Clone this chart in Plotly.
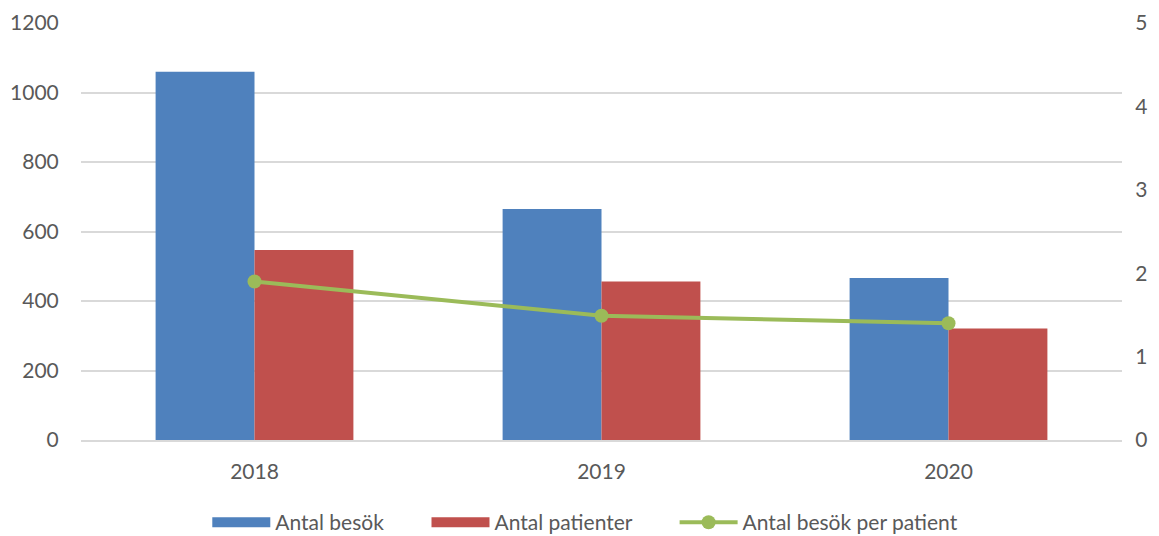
import plotly.graph_objects as go

years = ["2018", "2019", "2020"]
besok = [1060, 665, 466]
patienter = [547, 456, 321]
per_patient = [1.90, 1.49, 1.40]

names = ["Antal besök", "Antal patienter", "Antal besök per patient"]
colors = ["#4f81bd", "#c0504d", "#9bbb59"]

font_family = "Lato, 'Open Sans', sans-serif"
txt = "#595959"
fs = 21
pad = "\u00a0" * 7

fig = go.Figure()
fig.add_trace(go.Bar(x=years, y=besok, name=names[0], marker_color=colors[0],
                     marker_line_width=0, showlegend=False))
fig.add_trace(go.Bar(x=years, y=patienter, name=names[1], marker_color=colors[1],
                     marker_line_width=0, showlegend=False))
# legend swatches for the bars (wide rectangles as in the original)
for n, c in zip(names[:2], colors[:2]):
    fig.add_trace(go.Scatter(x=[None], y=[None], name=n + pad, mode="lines",
                             line=dict(color=c, width=15), showlegend=True))
fig.add_trace(go.Scatter(x=years, y=per_patient, name=names[2], yaxis="y2",
                         mode="lines+markers", line=dict(color=colors[2], width=4),
                         marker=dict(color=colors[2], size=14)))

fig.update_layout(
    width=1159, height=536,
    margin=dict(l=81, r=37, t=23, b=96),
    plot_bgcolor="white", paper_bgcolor="white",
    barmode="group", bargap=0.43, bargroupgap=0,
    font=dict(family=font_family, size=fs, color=txt),
    xaxis=dict(showgrid=False, showline=True, linecolor="#d9d9d9", linewidth=1.5,
               ticks="outside", ticklen=12, tickcolor="rgba(0,0,0,0)", automargin=False,
               tickfont=dict(size=fs, color=txt)),
    yaxis=dict(range=[0, 1200], dtick=200, showgrid=True, gridcolor="#d9d9d9", gridwidth=1.5,
               zeroline=False, ticks="outside", ticklen=17, tickcolor="rgba(0,0,0,0)",
               automargin=False, tickfont=dict(size=fs, color=txt)),
    yaxis2=dict(range=[0, 5], dtick=1, overlaying="y", side="right", showgrid=False,
                zeroline=False, ticks="outside", ticklen=8, tickcolor="rgba(0,0,0,0)",
                automargin=False, tickfont=dict(size=fs, color=txt)),
    legend=dict(orientation="h", xref="container", yref="container",
                x=0.505, xanchor="center", y=0.025, yanchor="middle",
                font=dict(size=fs, color=txt), traceorder="normal", itemwidth=58),
    showlegend=True,
)

fig.write_html("out.html", config={"displayModeBar": False},
               post_script="document.body.style.margin='0';document.body.style.overflow='hidden';")
